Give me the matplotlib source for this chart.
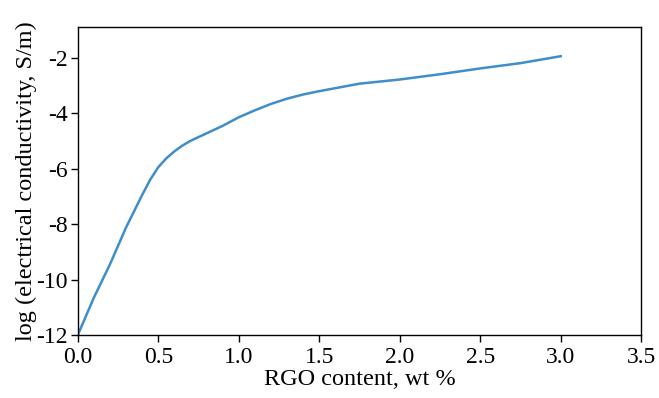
import matplotlib
matplotlib.use("Agg")
import matplotlib.pyplot as plt

# RGO loading (wt %) vs log conductivity
rgo_wt = [0.0, 0.1, 0.2, 0.3, 0.4, 0.45, 0.5, 0.55, 0.6, 0.65, 0.7, 0.8, 0.9, 1.0,
          1.1, 1.2, 1.3, 1.4, 1.5, 1.75, 2.0, 2.25, 2.5, 2.75, 3.0]
log_cond = [-12.0, -10.65, -9.45, -8.12, -6.95, -6.4, -5.95, -5.63, -5.38, -5.17, -5.0,
            -4.73, -4.46, -4.15, -3.9, -3.67, -3.48, -3.33, -3.21, -2.94, -2.79, -2.6,
            -2.39, -2.2, -1.95]

plt.rcParams['font.family'] = ['Liberation Serif', 'DejaVu Serif']
plt.rcParams['axes.unicode_minus'] = False

fig = plt.figure(figsize=(6.59, 3.98), dpi=100)
ax = fig.add_axes([0.118, 0.158, 0.855, 0.774])

ax.plot(rgo_wt, log_cond, color='#3f8dc9', linewidth=1.8)

ax.set_xlim(0, 3.5)
ax.set_ylim(-12, -0.9)
ax.set_xticks([0.0, 0.5, 1.0, 1.5, 2.0, 2.5, 3.0, 3.5])
ax.set_yticks([-12, -10, -8, -6, -4, -2])
ax.tick_params(labelsize=17, length=5, width=1)
ax.tick_params(axis='y', pad=2)

ax.set_xlabel('RGO content, wt %', fontsize=17.5, labelpad=1)
ax.set_ylabel('log (electrical conductivity, S/m)', fontsize=17.5, labelpad=0)

for sp in ax.spines.values():
    sp.set_linewidth(1.0)

fig.savefig('out.png', dpi=100)
